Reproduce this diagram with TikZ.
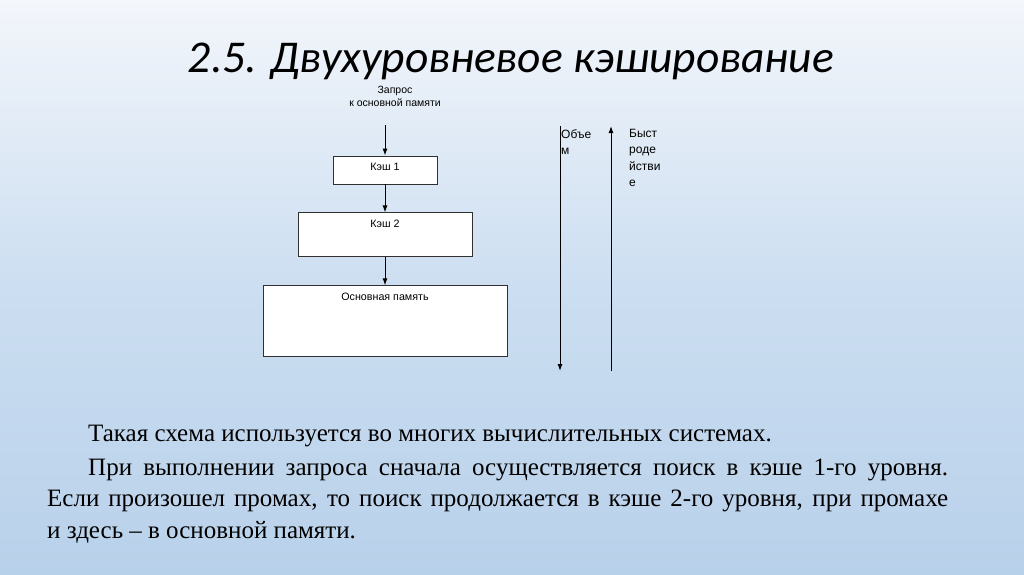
\documentclass[tikz,border=0pt]{standalone}
\usepackage{fontspec}
\setmainfont{Liberation Serif}
\setsansfont{Liberation Sans}
\newfontfamily\titlefont{Carlito}
\usetikzlibrary{positioning, arrows.meta}

\definecolor{bgtop}{HTML}{F3F6FB}
\definecolor{bgmid}{HTML}{CCDEF1}
\definecolor{bgbot}{HTML}{B8D1EA}
\definecolor{edge}{HTML}{303030}

\begin{document}
\begin{tikzpicture}[
    x=1pt, y=-1pt,
    node distance=28pt,
    block/.style={rectangle, draw=edge, fill=white, line width=0.9pt, inner sep=0pt},
    tag/.style={font=\sffamily\fontsize{10.7}{13}\selectfont, anchor=north, yshift=-4pt},
    flow/.style={-{Latex[length=7pt,width=5pt]}, line width=1pt, draw=black},
    side/.style={font=\sffamily\fontsize{12}{16.3}\selectfont, align=left, anchor=north west, inner sep=0pt},
    body/.style={font=\rmfamily\fontsize{25}{31.3}\selectfont, inner sep=0pt}
]
% --- Фон слайда ---
\shade[top color=bgtop, bottom color=bgmid] (0,0) rectangle (1024,287);
\shade[top color=bgmid, bottom color=bgbot] (0,287) rectangle (1024,574);
\useasboundingbox (0,0) rectangle (1024,574);
% --- Заголовок ---
\node[font=\titlefont\itshape\fontsize{45.5}{50}\selectfont, anchor=base] (title) at (511,72) {2.5. Двухуровневое кэширование};
% --- Схема ---
\node[font=\sffamily\fontsize{10.5}{13}\selectfont, align=center] (request) at (395,96) {Запрос\\к основной памяти};
\coordinate (start) at (385,125);
\node[block, minimum width=104pt, minimum height=28pt, label={[tag]north:Кэш 1}] (cache1) at (385,170) {};
\node[block, minimum width=174pt, minimum height=44pt, below=of cache1, label={[tag]north:Кэш 2}] (cache2) {};
\node[block, minimum width=244pt, minimum height=71pt, below=of cache2, label={[tag]north:Основная память}] (mainmem) {};
\draw[flow] (start) -- (cache1);
\draw[flow] (cache1) -- (cache2);
\draw[flow] (cache2) -- (mainmem);
% --- Объем и быстродействие ---
\coordinate (voltop) at (560,126);
\coordinate (volbot) at (560,371);
\coordinate (spdtop) at (611,126);
\coordinate (spdbot) at (611,371);
\draw[flow] (voltop) -- (volbot);
\draw[flow] (spdbot) -- (spdtop);
\node[side] (volume) at (561,129) {Объе\\м};
\node[side] (speed) at (629,129) {Быст\\роде\\йстви\\е};
% --- Текст ---
\node[body, anchor=base west] (usage) at (88,441.5) {Такая схема используется во многих вычислительных системах.};
\node[body, anchor=base west, text width=901pt, align=justify] (search) at (47,475.5)
    {\hspace*{41pt}При выполнении запроса сначала осуществляется поиск в кэше 1-го уровня.\linebreak
     Если произошел промах, то поиск продолжается в кэше 2-го уровня, при промахе\linebreak
     и здесь – в основной памяти.};
\end{tikzpicture}
\end{document}
